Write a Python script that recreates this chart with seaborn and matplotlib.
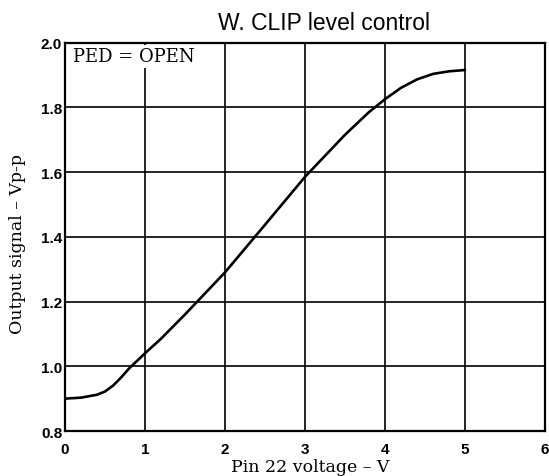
import matplotlib
matplotlib.use("Agg")
import matplotlib.pyplot as plt
import seaborn as sns
import pandas as pd

# Data
pin_voltage = [0.0, 0.2, 0.4, 0.5, 0.6, 0.7, 0.8, 1.0, 1.2, 1.5, 2.0, 2.5, 3.0, 3.5, 3.8, 4.0, 4.2, 4.4, 4.6, 4.8, 5.0]
output_vpp = [0.900, 0.903, 0.912, 0.922, 0.940, 0.965, 0.993, 1.040, 1.085, 1.160, 1.290, 1.437, 1.585, 1.715, 1.785, 1.825, 1.860, 1.886, 1.903, 1.911, 1.915]
x_ticks = [0, 1, 2, 3, 4, 5, 6]
y_ticks = [0.8, 1.0, 1.2, 1.4, 1.6, 1.8, 2.0]
y_tick_labels = ["0.8", "1.0", "1.2", "1.4", "1.6", "1.8", "2.0"]

df = pd.DataFrame({"x": pin_voltage, "y": output_vpp})

sns.set_theme(style="white")
plt.rcParams["font.family"] = ["Liberation Sans", "DejaVu Sans"]
plt.rcParams["text.color"] = "black"
plt.rcParams["axes.labelcolor"] = "black"

W, H = 549, 477
fig = plt.figure(figsize=(W / 100, H / 100), dpi=100)
L, R, T, B = 65, 545, 43.5, 432
ax = fig.add_axes([L / W, 1 - B / H, (R - L) / W, (B - T) / H])

sns.lineplot(data=df, x="x", y="y", ax=ax, color="black", linewidth=1.9, zorder=3)

ax.set_xlim(0, 6)
ax.set_ylim(0.8, 2.0)
ax.set_xticks(x_ticks)
ax.set_yticks(y_ticks)
ax.set_yticklabels(y_tick_labels)
ax.grid(True, color="black", linewidth=1.2)
ax.set_axisbelow(True)
for s in ax.spines.values():
    s.set_color("black")
    s.set_linewidth(1.6)
ax.tick_params(axis="both", length=0, labelsize=11, colors="black")
ax.tick_params(axis="x", pad=8)
ax.tick_params(axis="y", pad=2)
for lab in ax.get_xticklabels() + ax.get_yticklabels():
    lab.set_fontweight("bold")

serif = ["DejaVu Serif"]
ax.set_xlabel("Pin 22 voltage – V", fontfamily=serif, fontsize=12.5, color="black")
ax.xaxis.set_label_coords((310 - L) / (R - L), (B - 459) / (B - T))
ax.set_ylabel("Output signal – Vp-p", fontfamily=serif, fontsize=12.5, color="black")
ax.yaxis.set_label_coords((26 - L) / (R - L), (B - 244) / (B - T))

fig.text(324 / W, 1 - 24 / H, "W. CLIP level control", fontsize=16.5,
         ha="center", va="center", color="black")

ax.text(0.1, 1.985, "PED = OPEN", fontfamily=serif, fontsize=13,
        ha="left", va="top", zorder=4, color="black",
        bbox=dict(facecolor="white", edgecolor="none", pad=1.5))

fig.savefig("out.png", dpi=100)
